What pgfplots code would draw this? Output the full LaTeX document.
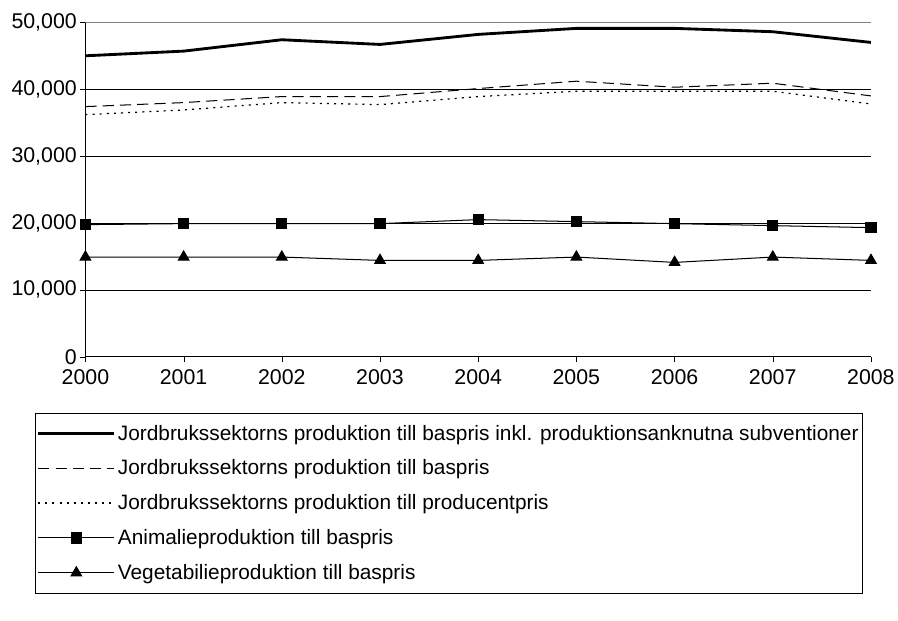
\documentclass[border={8pt 26pt 0pt 10pt}]{standalone}
\usepackage{pgfplots}
\pgfplotsset{compat=1.18}
\usepackage{fontspec}
\setmainfont{Liberation Sans}
\begin{document}
\begin{tikzpicture}
\begin{axis}[
 scale only axis, width=773pt, height=329pt,
 xmin=2000, xmax=2008, ymin=0, ymax=50000,
 xtick={2000,...,2008}, xticklabel style={/pgf/number format/1000 sep={}},
 ytick={0,10000,...,50000},
 yticklabel style={/pgf/number format/.cd,fixed,1000 sep={,}},
 /pgf/number format/assume math mode=true,
 scaled y ticks=false,
 ymajorgrids, major grid style={black,thin},
 tick style={black}, tick align=outside, major tick length=5pt,
 xtick pos=bottom, ytick pos=left,
 axis x line*=bottom, axis y line*=left,
 axis line style={black,-},
 every axis plot/.append style={black},
 ticklabel style={font=\fontsize{21}{24}\selectfont},
 xticklabel style={yshift=-4pt},
 legend style={at={(0.4625,-0.167)}, anchor=north, draw=black, font=\fontsize{20.5}{24}\selectfont, legend cell align=left, row sep=14pt, inner ysep=10pt, inner xsep=2pt},
 legend image code/.code={\draw[#1] (0pt,0pt) -- (75pt,0pt); \draw[#1, mark repeat=1] plot coordinates {(37.5pt,0pt)};},
]
\draw[gray] (axis cs:2000,50000) -- (axis cs:2008,50000) -- (axis cs:2008,0);
\addplot[line width=2.8pt] coordinates {(2000,45000)(2001,45700)(2002,47400)(2003,46700)(2004,48200)(2005,49100)(2006,49100)(2007,48600)(2008,47000)};
\addlegendentry{Jordbrukssektorns produktion till baspris inkl. produktionsanknutna subventioner}
\addplot[line width=1pt, dash pattern=on 11pt off 6pt] coordinates {(2000,37400)(2001,38000)(2002,38900)(2003,38900)(2004,40100)(2005,41200)(2006,40300)(2007,40900)(2008,39000)};
\addlegendentry{Jordbrukssektorns produktion till baspris}
\addplot[line width=1.2pt, dash pattern=on 2pt off 5pt] coordinates {(2000,36200)(2001,36900)(2002,38000)(2003,37700)(2004,38900)(2005,39700)(2006,39700)(2007,39700)(2008,37800)};
\addlegendentry{Jordbrukssektorns produktion till producentpris}
\addplot[line width=1pt, mark=square*, mark size=5pt] coordinates {(2000,19750)(2001,19900)(2002,19900)(2003,19900)(2004,20500)(2005,20200)(2006,19900)(2007,19600)(2008,19300)};
\addlegendentry{Animalieproduktion till baspris}
\addplot[line width=1pt, mark=triangle*, mark size=6pt] coordinates {(2000,14900)(2001,14900)(2002,14900)(2003,14400)(2004,14400)(2005,14900)(2006,14100)(2007,14900)(2008,14400)};
\addlegendentry{Vegetabilieproduktion till baspris}
\end{axis}
\end{tikzpicture}
\end{document}
